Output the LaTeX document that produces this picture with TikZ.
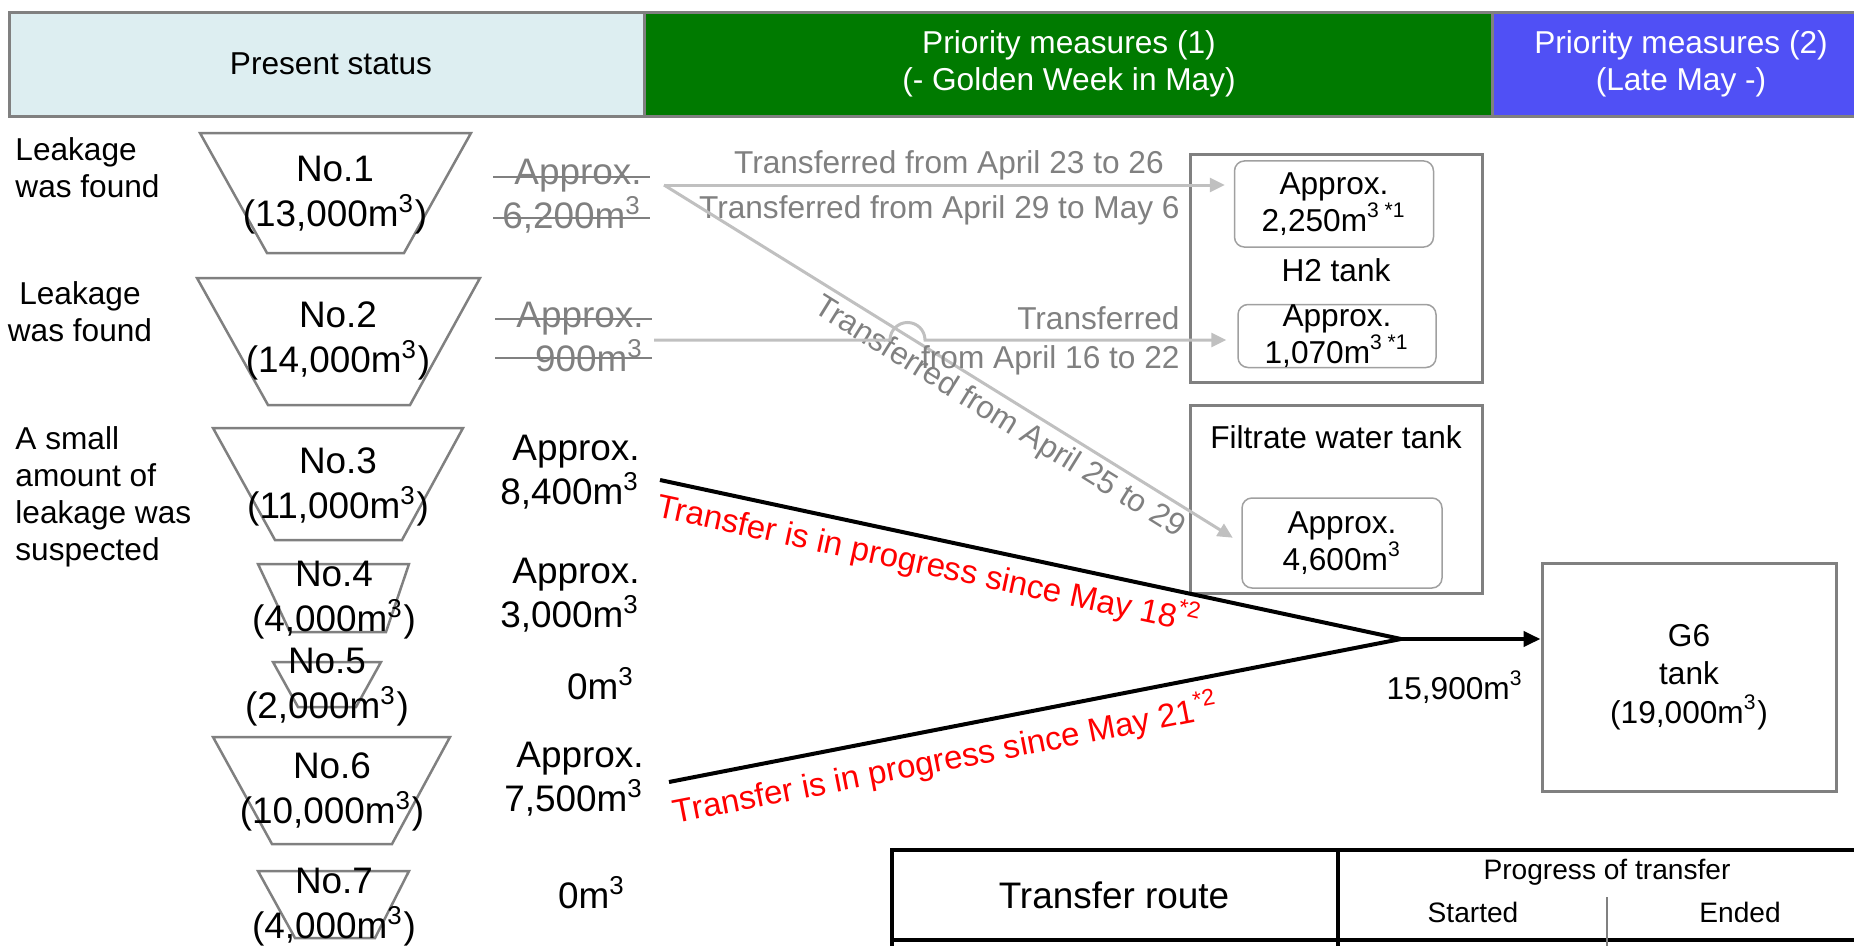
\documentclass[tikz,border=0pt]{standalone}
\usepackage{fontspec}
\setmainfont{Liberation Sans}
\usetikzlibrary{arrows.meta}
\definecolor{statcyan}{RGB}{221,238,241}
\definecolor{prigreen}{RGB}{0,122,0}
\definecolor{priblue}{RGB}{80,80,245}
\definecolor{framegray}{RGB}{128,128,128}
\definecolor{pipegray}{RGB}{192,192,192}
\definecolor{notegray}{RGB}{128,128,128}
\newcommand{\mcube}{m\textsuperscript{3}}
\begin{document}
\begin{tikzpicture}[x=0.1mm,y=-0.1mm,
        every node/.style={font=\fontsize{9}{10.5}\selectfont},
        big/.style={font=\fontsize{10.5}{12.6}\selectfont},
        small/.style={font=\fontsize{8}{9.6}\selectfont},
        head/.style={draw=framegray,line width=0.3mm},
        tank/.style={draw=framegray,line width=0.25mm},
        store/.style={draw=framegray,line width=0.3mm},
        inbox/.style={draw=framegray!75,line width=0.15mm,rounded corners=1mm,align=center},
        pipe/.style={draw=pipegray,line width=0.3mm,-{Triangle[length=1.5mm,width=1.4mm]}},
        flow/.style={line width=0.4mm},
        note/.style={text=notegray},
        busy/.style={text=red,sloped,anchor=north,inner sep=1.5pt,
            font=\fontsize{9.4}{11}\selectfont},
        strike/.style={draw=notegray,line width=0.15mm},
        rule/.style={line width=0.4mm}]
    \useasboundingbox (0,0) rectangle (1854,946);
    \draw[head,fill=statcyan] (9,12) rectangle (644,116);
    \draw[head,fill=prigreen] (644,12) rectangle (1492,116);
    \draw[head,fill=priblue] (1492,12) rectangle (1870,116);
    \node (present) at (331,64) {Present status};
    \node[text=white,align=center] (prio1) at (1069,64)
        {Priority measures (1)\\(- Golden Week in May)};
    \node[text=white,align=center] (prio2) at (1681,64)
        {Priority measures (2)\\(Late May -)};
    \node[anchor=west,align=left] (found1) at (3,168) {Leakage\\was found};
    \node[align=center] (found2) at (80,312) {Leakage\\was found};
    \node[anchor=west,align=left] (suspect) at (3,497)
        {A small\\amount of\\leakage was\\suspected};
    \foreach \yt/\yb/\xa/\xb/\xc/\xd in {133/253/200/471/404/267,
            278/405/197/480/410/268, 428/540/213/463/402/275,
            564/632/258/409/386/290, 662/707/273/381/356/298,
            737/844/213/450/392/272, 871/938/258/409/375/295}
        \draw[tank] (\xa,\yt) -- (\xb,\yt) -- (\xc,\yb) -- (\xd,\yb) -- cycle;
    \foreach \n/\x/\y/\vol in {1/335/195/{13,000}, 2/338/341/{14,000},
            3/338/487/{11,000}, 4/334/600/{4,000}, 5/327/687/{2,000},
            6/332/792/{10,000}, 7/334/907/{4,000}}
        \node[big,align=center] (no\n) at (\x,\y) {No.\n\\(\vol\mcube)};
    \node[big,note,align=right,anchor=east] (val1) at (654,196) {Approx.\\6,200\mcube};
    \node[big,note,align=right,anchor=east] (val2) at (656,337) {Approx.\\900\mcube};
    \draw[strike] (493,177) -- (650,177);
    \draw[strike] (493,218) -- (650,218);
    \draw[strike] (495,319) -- (652,319);
    \draw[strike] (495,358) -- (652,358);
    \node[big,align=right,anchor=east] (val3) at (652,472) {Approx.\\8,400\mcube};
    \node[big,align=right,anchor=east] (val4) at (652,595) {Approx.\\3,000\mcube};
    \node[big,anchor=east] (val5) at (647,684) {0\mcube};
    \node[big,align=right,anchor=east] (val6) at (656,779) {Approx.\\7,500\mcube};
    \node[big,anchor=east] (val7) at (638,893) {0\mcube};
    \node[store,minimum width=29.2mm,minimum height=22.8mm] (h2) at (1336,268) {};
    \node (h2name) at (1336,270) {H2 tank};
    \node[store,minimum width=29.2mm,minimum height=18.8mm] (filt) at (1336,499) {};
    \node (filtname) at (1336,437) {Filtrate water tank};
    \node[inbox,minimum width=19.9mm,minimum height=7.9mm] (h2a) at (1334,204)
        {Approx.\\2,250m\textsuperscript{3 *1}};
    \node[inbox,inner sep=0pt,minimum width=19.8mm,minimum height=6.3mm] (h2b) at (1337,336)
        {Approx.\\1,070m\textsuperscript{3 *1}};
    \node[inbox,minimum width=20mm,minimum height=9mm] (filta) at (1342,543)
        {Approx.\\4,600\mcube};
    \node[store,align=center,font=\fontsize{9}{11}\selectfont,
        minimum width=29.4mm,minimum height=22.8mm] (g6) at (1689,677)
        {G6\\tank\\(19,000\mcube)};
    \coordinate (out1) at (664,185);
    \coordinate (out2) at (654,340);
    \draw[pipe,shorten >=0.9mm] (out1) -- (out1 -| h2a.west)
        node[note,pos=0.5,anchor=south,inner sep=1pt] (route1)
        {Transferred from April 23 to 26};
    \node[note,anchor=east] (route2) at (1192,210) {Transferred from April 29 to May 6};
    \draw[pipe,shorten >=1mm] (out1) -- (filta.west)
        node[note,sloped,anchor=north,pos=0.6,inner sep=1.5pt] (route3)
        {Transferred from April 25 to 29};
    \draw[pipe,shorten >=1.1mm] (out2) -- (890,340) arc (180:0:1.75mm)
        -- (out2 -| h2b.west);
    \node[note,align=right,anchor=east,font=\fontsize{9}{11}\selectfont] (route4)
        at (1192,341) {Transferred\\from April 16 to 22};
    \coordinate (out3) at (660,480);
    \coordinate (out6) at (669,782);
    \coordinate (merge) at (1401,639);
    \draw[flow] (out3) -- (merge)
        node[busy,pos=0.37] (since18) {Transfer is in progress since May 18\textsuperscript{*2}};
    \draw[flow] (out6) -- (merge)
        node[busy,pos=0.37,inner sep=3pt] (since21)
        {Transfer is in progress since May 21\textsuperscript{*2}};
    \draw[flow,-{Triangle[length=1.7mm,width=1.5mm]}] (merge) -- (merge -| g6.west);
    \node (total) at (1455,687) {15,900\mcube};
    \draw[rule] (892,960) -- (892,850) -- (1870,850);
    \draw[rule] (892,940) -- (1870,940);
    \draw[rule] (1338,850) -- (1338,960);
    \draw[framegray,line width=0.2mm] (1607,897) -- (1607,960);
    \node[big] (route) at (1114,895) {Transfer route};
    \node[small] (progress) at (1607,872) {Progress of transfer};
    \node[small] (started) at (1473,912) {Started};
    \node[small] (ended) at (1740,912) {Ended};
\end{tikzpicture}
\end{document}
